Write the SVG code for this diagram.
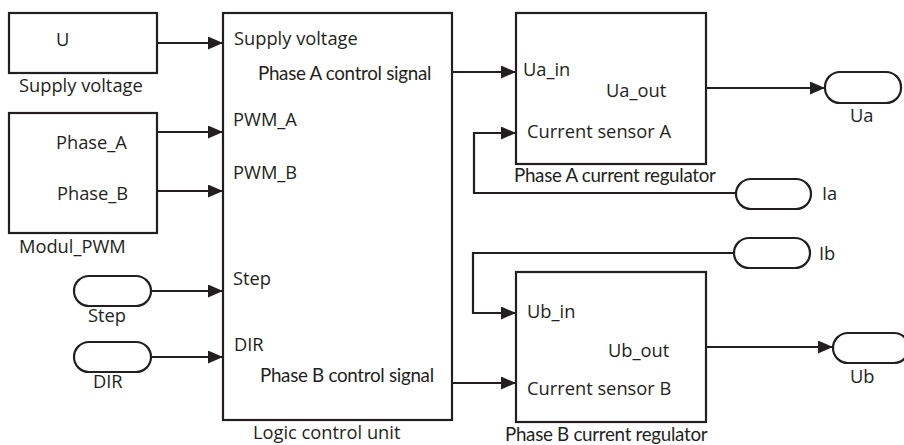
<svg xmlns="http://www.w3.org/2000/svg" width="904" height="445" viewBox="0 0 904 445">
<style>
.b{fill:#fff;stroke:#231f20;stroke-width:2.2}
.t{fill:#fff;stroke:#231f20;stroke-width:2.2}
.w{fill:none;stroke:#231f20;stroke-width:2.2}
text{font-family:"Open Sans","DejaVu Sans",sans-serif;font-size:18.3px;fill:#231f20}
.c{font-family:Lato,"Liberation Sans",sans-serif;font-size:18.8px;letter-spacing:-0.3px}
</style>
<defs>
<marker id="a" markerWidth="15" markerHeight="13" refX="15" refY="6.5" orient="auto" markerUnits="userSpaceOnUse">
<path d="M0,0 L15,6.5 L0,13 Z" fill="#231f20"/>
</marker>
</defs>
<g id="connectors">
<path class="w" d="M157,43 H223" marker-end="url(#a)"/>
<path class="w" d="M157,132 H223" marker-end="url(#a)"/>
<path class="w" d="M157,191 H223" marker-end="url(#a)"/>
<path class="w" d="M151,291 H223" marker-end="url(#a)"/>
<path class="w" d="M151,357 H223" marker-end="url(#a)"/>
<path class="w" d="M452,72 H516" marker-end="url(#a)"/>
<path class="w" d="M452,383 H516" marker-end="url(#a)"/>
<path class="w" d="M706,88 H825" marker-end="url(#a)"/>
<path class="w" d="M706,347 H833" marker-end="url(#a)"/>
<path class="w" d="M736,193 H474 V133 H516" marker-end="url(#a)"/>
<path class="w" d="M734,253 H473 V313 H516" marker-end="url(#a)"/>
</g>
<g id="supply">
<rect class="b" x="9" y="13" width="148" height="60"/>
<text x="56" y="46">U</text>
<text x="19" y="92">Supply voltage</text>
</g>
<g id="pwm">
<rect class="b" x="9" y="113" width="148" height="120"/>
<text x="56" y="149">Phase_A</text>
<text x="57" y="200">Phase_B</text>
<text x="19" y="253">Modul_PWM</text>
</g>
<g id="step">
<rect class="t" x="74" y="276" width="77" height="30" rx="15"/>
<text x="88" y="322">Step</text>
</g>
<g id="dir">
<rect class="t" x="74" y="342" width="77" height="30" rx="15"/>
<text x="93" y="388">DIR</text>
</g>
<g id="logic">
<rect class="b" x="223" y="13" width="229" height="407"/>
<text x="234" y="45">Supply voltage</text>
<text class="c" x="258" y="80">Phase A control signal</text>
<text x="233" y="126">PWM_A</text>
<text x="233" y="179">PWM_B</text>
<text x="233" y="285">Step</text>
<text x="234" y="351">DIR</text>
<text class="c" x="260" y="382">Phase B control signal</text>
<text x="253" y="439">Logic control unit</text>
</g>
<g id="regA">
<rect class="b" x="516" y="13" width="190" height="151"/>
<text x="523" y="76">Ua_in</text>
<text x="606" y="97">Ua_out</text>
<text x="527" y="138">Current sensor A</text>
<text class="c" x="514" y="182">Phase A current regulator</text>
</g>
<g id="ua">
<rect class="t" x="825" y="72" width="76" height="31" rx="15"/>
<text x="850" y="122">Ua</text>
</g>
<g id="ia">
<rect class="t" x="736" y="179" width="75" height="30" rx="15"/>
<text x="822" y="200">Ia</text>
</g>
<g id="ib">
<rect class="t" x="734" y="238" width="76" height="30" rx="15"/>
<text x="819" y="260">Ib</text>
</g>
<g id="regB">
<rect class="b" x="516" y="272" width="190" height="150"/>
<text x="527" y="318">Ub_in</text>
<text x="608" y="357">Ub_out</text>
<text x="527" y="395">Current sensor B</text>
<text class="c" x="505" y="441">Phase B current regulator</text>
</g>
<g id="ub">
<rect class="t" x="833" y="333" width="76" height="30" rx="15"/>
<text x="850" y="383">Ub</text>
</g>
</svg>
